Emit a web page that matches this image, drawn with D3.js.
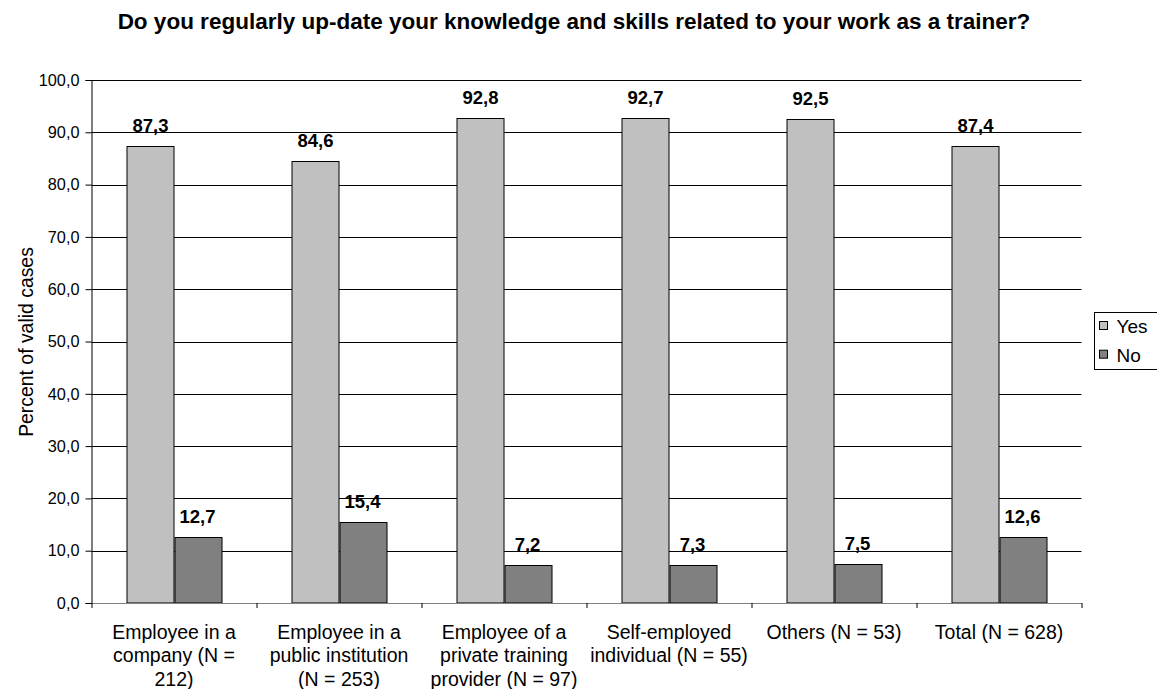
<!DOCTYPE html>
<html>
<head>
<meta charset="utf-8">
<script src="https://cdn.jsdelivr.net/npm/d3@7"></script>
<style>
  body { margin: 0; background: #fff; }
  svg { display: block; font-family: "Liberation Sans", Arial, sans-serif; }
</style>
</head>
<body>
<svg id="chart" width="1157" height="689"></svg>
<script>
const title = "Do you regularly up-date your knowledge and skills related to your work as a trainer?";
const yAxisTitle = "Percent of valid cases";
const categories = [
  ["Employee in a", "company (N =", "212)"],
  ["Employee in a", "public institution", "(N = 253)"],
  ["Employee of a", "private training", "provider (N = 97)"],
  ["Self-employed", "individual (N = 55)"],
  ["Others (N = 53)"],
  ["Total (N = 628)"]
];
const seriesNames = ["Yes", "No"];
const yesValues = [87.3, 84.6, 92.8, 92.7, 92.5, 87.4];
const noValues = [12.7, 15.4, 7.2, 7.3, 7.5, 12.6];
const yTicks = [0, 10, 20, 30, 40, 50, 60, 70, 80, 90, 100];
const seriesColors = ["#C0C0C0", "#808080"];

const svg = d3.select("#chart");
const mLeft = 91.5, mRight = 1081.5, mTop = 80, mBottom = 603;

const catIdx = categories.map((d, i) => i);
const x0 = d3.scaleBand().domain(catIdx).range([mLeft, mRight]).padding(0);
const x1 = d3.scaleBand().domain(seriesNames).range([0, x0.bandwidth()]).paddingInner(0).paddingOuter(0.755);
const y = d3.scaleLinear().domain([0, 100]).range([mBottom, mTop]);
const fmt = v => d3.format(".1f")(v).replace(".", ",");

// gridlines
svg.append("g")
  .selectAll("line")
  .data(yTicks.filter(t => t > 0))
  .join("line")
  .attr("x1", mLeft).attr("x2", mRight)
  .attr("y1", d => Math.round(y(d)) + 0.5).attr("y2", d => Math.round(y(d)) + 0.5)
  .attr("stroke", "#000").attr("stroke-width", 1);

// bars
const data = catIdx.map(i => ({ i, values: [yesValues[i], noValues[i]] }));
const groups = svg.append("g").selectAll("g").data(data).join("g")
  .attr("transform", d => `translate(${x0(d.i)},0)`);
groups.selectAll("rect")
  .data(d => d.values.map((v, k) => ({ k, v })))
  .join("rect")
  .attr("x", d => Math.round(x1(seriesNames[d.k])) + 0.5)
  .attr("width", x1.bandwidth())
  .attr("y", d => Math.round(y(d.v)) + 0.5)
  .attr("height", d => y(0) - Math.round(y(d.v)) - 0.5)
  .attr("fill", d => seriesColors[d.k])
  .attr("stroke", "#000").attr("stroke-width", 1);
groups.selectAll("text")
  .data(d => d.values.map((v, k) => ({ k, v })))
  .join("text")
  .attr("x", d => x1(seriesNames[d.k]) + x1.bandwidth() / 2)
  .attr("y", d => y(d.v) - 14)
  .attr("text-anchor", "middle")
  .attr("font-weight", "bold")
  .attr("font-size", "18.5px")
  .attr("fill", "#000")
  .text(d => fmt(d.v));

// y axis
const yAxis = svg.append("g")
  .attr("transform", `translate(${mLeft},0)`)
  .call(d3.axisLeft(y).tickValues(yTicks).tickFormat(fmt).tickSize(6).tickPadding(6));
yAxis.select(".domain").attr("stroke", "#000");
yAxis.selectAll(".tick line").attr("stroke", "#000");
yAxis.selectAll("text").attr("font-size", "16.3px").attr("font-family", "Liberation Sans, Arial, sans-serif").attr("fill", "#000");

// x axis
const xTickScale = d3.scaleLinear().domain([0, categories.length]).range([mLeft, mRight]);
const xAxis = svg.append("g")
  .attr("transform", `translate(0,${mBottom})`)
  .call(d3.axisBottom(xTickScale).ticks(categories.length).tickFormat("").tickSize(5).tickSizeOuter(0));
xAxis.select(".domain").attr("stroke", "#808080");
xAxis.selectAll(".tick line").attr("stroke", "#000");

// category labels
const catG = svg.append("g").selectAll("text").data(categories).join("text")
  .attr("x", (d, i) => x0(i) + x0.bandwidth() / 2)
  .attr("y", 639)
  .attr("text-anchor", "middle")
  .attr("font-size", "19.5px")
  .attr("fill", "#000");
catG.selectAll("tspan").data(d => d).join("tspan")
  .attr("x", function () { return d3.select(this.parentNode).attr("x"); })
  .attr("dy", (d, j) => j === 0 ? 0 : 23.3)
  .text(d => d);

// y axis title
svg.append("text")
  .attr("transform", `translate(33,342) rotate(-90)`)
  .attr("text-anchor", "middle")
  .attr("font-size", "19.4px")
  .attr("fill", "#000")
  .text(yAxisTitle);

// title
svg.append("text")
  .attr("x", 574).attr("y", 29)
  .attr("text-anchor", "middle")
  .attr("font-weight", "bold")
  .attr("font-size", "22.5px")
  .attr("fill", "#000")
  .text(title);

// legend
const lg = svg.append("g");
lg.append("rect").attr("x", 1094.5).attr("y", 312.5).attr("width", 70).attr("height", 57)
  .attr("fill", "#fff").attr("stroke", "#000").attr("stroke-width", 1);
const items = lg.selectAll("g.item").data(seriesNames).join("g").attr("class", "item")
  .attr("transform", (d, i) => `translate(0,${i * 28.7})`);
items.append("rect").attr("x", 1099.5).attr("y", 321.5).attr("width", 8).attr("height", 8)
  .attr("fill", (d, i) => seriesColors[i]).attr("stroke", "#000").attr("stroke-width", 1);
items.append("text").attr("x", 1116.5).attr("y", 333).attr("font-size", "19px").attr("fill", "#000").text(d => d);
</script>
</body>
</html>
